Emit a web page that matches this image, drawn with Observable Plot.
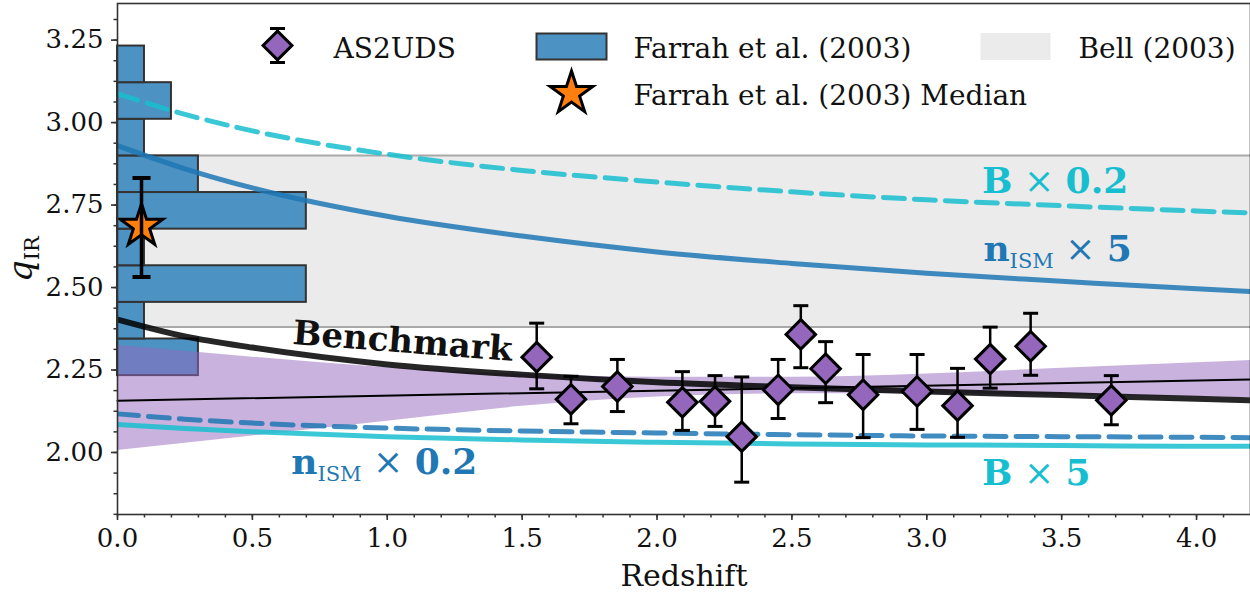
<!DOCTYPE html>
<html><head><meta charset="utf-8">
<script src="https://cdn.jsdelivr.net/npm/d3@7"></script>
<script src="https://cdn.jsdelivr.net/npm/@observablehq/plot@0.6"></script>
<style>body{margin:0;background:#fff}</style>
</head><body><div id="chart"></div>
<script>
// ---------- data ----------
const xDomain = [0, 4.2];
const yDomain = [1.812, 3.361];
const xMajorTicks = [0, 0.5, 1.0, 1.5, 2.0, 2.5, 3.0, 3.5, 4.0];
const xMinorTicks = d3.range(0, 42).map(i => i / 10);
const yMajorTicks = [2.00, 2.25, 2.50, 2.75, 3.00, 3.25];
const yMinorTicks = d3.range(29, 54).map(i => i * 0.0625);

// Model curves
const zGrid = [0, 0.25, 0.5, 1.0, 1.5, 2.0, 2.5, 3.0, 3.5, 4.0, 4.2];
const qBenchmark = [2.403, 2.352, 2.318, 2.267, 2.236, 2.213, 2.198, 2.185, 2.174, 2.163, 2.158];
const qNism5 = [2.930, 2.860, 2.802, 2.716, 2.656, 2.608, 2.573, 2.543, 2.519, 2.496, 2.488];
const qB02 = [3.087, 3.025, 2.975, 2.904, 2.855, 2.820, 2.790, 2.766, 2.748, 2.732, 2.726];
const qNism02 = [2.117, 2.101, 2.089, 2.074, 2.065, 2.059, 2.054, 2.050, 2.048, 2.046, 2.045];
const qB5 = [2.085, 2.073, 2.063, 2.048, 2.038, 2.031, 2.026, 2.023, 2.021, 2.019, 2.019];

// AS2UDS fit and its band
const fitZ = [0, 4.2];
const fitQ = [2.157, 2.221];
const bandZ = [0, 0.5, 1.0, 1.5, 2.0, 2.5, 3.0, 3.5, 4.0, 4.2];
const bandLow = [2.006, 2.050, 2.095, 2.140, 2.168, 2.178, 2.178, 2.174, 2.169, 2.166];
const bandHigh = [2.325, 2.289, 2.257, 2.237, 2.228, 2.228, 2.238, 2.255, 2.272, 2.279];

// Bell (2003)
const bellRange = [2.38, 2.90];

// Farrah et al. (2003) histogram
const farrahEdges = [2.233, 2.344, 2.455, 2.566, 2.677, 2.788, 2.899, 3.010, 3.121, 3.232];
const farrahHeights = [0.3, 0.1, 0.7, 0.1, 0.7, 0.3, 0.1, 0.2, 0.1];
const farrahMedZ = [0.089];
const farrahMedQ = [2.686];
const farrahMedLo = [2.532];
const farrahMedHi = [2.832];

// AS2UDS points
const asZ = [1.554, 1.681, 1.853, 2.094, 2.215, 2.314, 2.449, 2.533, 2.625, 2.764, 2.964, 3.114, 3.235, 3.385, 3.684];
const asQ = [2.289, 2.161, 2.200, 2.152, 2.155, 2.048, 2.190, 2.358, 2.254, 2.175, 2.185, 2.142, 2.283, 2.322, 2.158];
const asLo = [2.193, 2.087, 2.124, 2.067, 2.079, 1.910, 2.103, 2.257, 2.151, 2.045, 2.070, 2.046, 2.195, 2.234, 2.084];
const asHi = [2.392, 2.231, 2.282, 2.245, 2.233, 2.229, 2.282, 2.445, 2.336, 2.297, 2.297, 2.255, 2.380, 2.422, 2.233];

// Text
const legendLabels = ["AS2UDS", "Farrah et al. (2003)", "Bell (2003)", "Farrah et al. (2003) Median"];
const xLabel = "Redshift";
const yLabel = "q_IR";
const annoLabels = ["Benchmark", "B × 0.2", "n_ISM × 5", "n_ISM × 0.2", "B × 5"];
const annoZ = [0.647, 3.205, 3.210, 0.644, 3.205];
const annoQ = [2.329, 2.788, 2.581, 1.934, 1.902];

// ---------- build tables ----------
const curve = q => zGrid.map((z, i) => ({z, q: q[i]}));
const band = bandZ.map((z, i) => ({z, lo: bandLow[i], hi: bandHigh[i]}));
const fit = fitZ.map((z, i) => ({z, q: fitQ[i]}));
const bins = farrahHeights.map((w, i) => ({w, lo: farrahEdges[i], hi: farrahEdges[i + 1]}));
const med = farrahMedZ.map((z, i) => ({z, q: farrahMedQ[i], lo: farrahMedLo[i], hi: farrahMedHi[i]}));
const pts = asZ.map((z, i) => ({z, q: asQ[i], lo: asLo[i], hi: asHi[i]}));
const anno = annoLabels.map((t, i) => ({t, z: annoZ[i], q: annoQ[i]}));

const C0 = "#1f77b4", C9 = "#17becf", C4 = "#9467bd", C1 = "#ff7f0e";
const histFill = "#4c92c3", edge = "#333";

const capSym = hw => ({draw(ctx) { ctx.moveTo(-hw, 0); ctx.lineTo(hw, 0); }});
const rectSym = (w, h) => ({draw(ctx) { ctx.rect(-w / 2, -h / 2, w, h); }});
const errSym = (h, hw) => ({draw(ctx) {
  ctx.moveTo(0, -h); ctx.lineTo(0, h);
  ctx.moveTo(-hw, -h); ctx.lineTo(hw, -h);
  ctx.moveTo(-hw, h); ctx.lineTo(hw, h);
}});

const serif = "'DejaVu Serif', serif";
const boldSerif = "'DejaVu Serif', serif";
const lineStyle = {x: "z", y: "q", curve: "monotone-x", clip: true};
const legendText = {frameAnchor: "top-left", text: d => d, textAnchor: "start", lineAnchor: "bottom", fontSize: 28, fontFamily: serif, fill: "#111"};

const plot = Plot.plot({
  width: 1250, height: 592,
  marginLeft: 117, marginRight: 0, marginTop: 3, marginBottom: 78,
  x: {domain: xDomain},
  y: {domain: yDomain},
  style: {fontFamily: serif, color: "#000", background: "#fff", overflow: "visible"},
  marks: [
    // Bell band
    Plot.rect([bellRange], {y1: d => d[0], y2: d => d[1], fill: "#ebebeb"}),
    Plot.ruleY(bellRange, {stroke: "#a9a9a9", strokeWidth: 2}),
    // Farrah histogram
    Plot.rect(bins, {x1: 0, x2: "w", y1: "lo", y2: "hi", fill: histFill, stroke: edge, strokeWidth: 2}),
    // AS2UDS band + fit
    Plot.areaY(band, {x: "z", y1: "lo", y2: "hi", fill: C4, fillOpacity: 0.5, curve: "monotone-x", clip: true}),
    Plot.line(fit, {x: "z", y: "q", stroke: "#000", strokeWidth: 2}),
    // models
    Plot.line(curve(qNism5), {...lineStyle, stroke: C0, strokeOpacity: 0.85, strokeWidth: 5}),
    Plot.line(curve(qB02), {...lineStyle, stroke: C9, strokeOpacity: 0.85, strokeWidth: 5, strokeDasharray: "21,10"}),
    Plot.line(curve(qNism02), {...lineStyle, stroke: C0, strokeOpacity: 0.85, strokeWidth: 5, strokeDasharray: "21,10"}),
    Plot.line(curve(qB5), {...lineStyle, stroke: C9, strokeOpacity: 0.85, strokeWidth: 5}),
    Plot.line(curve(qBenchmark), {...lineStyle, stroke: "#000", strokeOpacity: 0.85, strokeWidth: 6}),
    // AS2UDS points
    Plot.ruleX(pts, {x: "z", y1: "lo", y2: "hi", stroke: "#000", strokeWidth: 2.5}),
    Plot.dot(pts, {x: "z", y: "lo", symbol: capSym(7.5), stroke: "#000", strokeWidth: 3, fill: "none"}),
    Plot.dot(pts, {x: "z", y: "hi", symbol: capSym(7.5), stroke: "#000", strokeWidth: 3, fill: "none"}),
    Plot.dot(pts, {x: "z", y: "q", symbol: "diamond2", r: 13.3, fill: C4, stroke: "#000", strokeWidth: 3}),
    // Farrah median
    Plot.dot(med, {x: "z", y: "q", symbol: "star", r: 13.4, fill: C1, stroke: "#000", strokeWidth: 3}),
    Plot.ruleX(med, {x: "z", y1: "lo", y2: "hi", stroke: "#000", strokeWidth: 3.5}),
    Plot.dot(med, {x: "z", y: "lo", symbol: capSym(9), stroke: "#000", strokeWidth: 4, fill: "none"}),
    Plot.dot(med, {x: "z", y: "hi", symbol: capSym(9), stroke: "#000", strokeWidth: 4, fill: "none"}),
    // annotations
    Plot.text(anno.filter(d => d.t === "Benchmark"), {x: "z", y: "q", text: "t", textAnchor: "start", lineAnchor: "bottom",
      rotate: 4.4, fontFamily: boldSerif, fontWeight: "bold", fontSize: 34, fill: "#111"}),
    Plot.text(anno.filter(d => d.t.startsWith("B ")), {x: "z", y: "q", text: "t", textAnchor: "start", lineAnchor: "bottom",
      fontFamily: boldSerif, fontWeight: "bold", fontSize: 36, fill: C9}),
    Plot.text(anno.filter(d => d.t.startsWith("n_")), {x: "z", y: "q", text: "t", textAnchor: "start", lineAnchor: "bottom",
      fontFamily: boldSerif, fontWeight: "bold", fontSize: 36, fill: C0}),
    // legend
    Plot.dot([0], {frameAnchor: "top-left", dx: 160, dy: 42, symbol: errSym(17, 7.5), stroke: "#000", strokeWidth: 3, fill: "none"}),
    Plot.dot([0], {frameAnchor: "top-left", dx: 160, dy: 42, symbol: "diamond2", r: 13, fill: C4, stroke: "#000", strokeWidth: 3}),
    Plot.dot([0], {frameAnchor: "top-left", dx: 454, dy: 43, symbol: rectSym(70, 26), fill: histFill, stroke: edge, strokeWidth: 2}),
    Plot.dot([0], {frameAnchor: "top-left", dx: 898, dy: 43, symbol: rectSym(70, 27), fill: "#ebebeb", stroke: "none"}),
    Plot.dot([0], {frameAnchor: "top-left", dx: 454, dy: 90, symbol: "star", r: 13.4, fill: C1, stroke: "#000", strokeWidth: 3}),
    Plot.text([legendLabels[0]], {...legendText, dx: 216, dy: 54}),
    Plot.text([legendLabels[1]], {...legendText, dx: 516, dy: 54}),
    Plot.text([legendLabels[2]], {...legendText, dx: 961, dy: 54}),
    Plot.text([legendLabels[3]], {...legendText, dx: 516, dy: 101}),
    // axes
    Plot.axisX(xMinorTicks, {tickSize: 3.5, stroke: edge, strokeWidth: 1.5, tickFormat: () => "", label: null}),
    Plot.axisY(yMinorTicks, {tickSize: 3.5, stroke: edge, strokeWidth: 1.5, tickFormat: () => "", label: null}),
    Plot.axisX(xMajorTicks, {tickSize: 6, tickPadding: 8, stroke: edge, strokeWidth: 1.6, tickFormat: d3.format(".1f"),
      fontSize: 26, fontFamily: serif, fill: "#111", label: null}),
    Plot.axisY(yMajorTicks, {tickSize: 6, tickPadding: 8, stroke: edge, strokeWidth: 1.6, tickFormat: d3.format(".2f"),
      fontSize: 26, fontFamily: serif, fill: "#111", label: null}),
    Plot.text([xLabel], {frameAnchor: "bottom", dy: 71, text: d => d, textAnchor: "middle", lineAnchor: "bottom", fontSize: 30, fontFamily: serif, fill: "#111"}),
    Plot.text([yLabel], {frameAnchor: "left", dx: -86, text: d => d, rotate: -90, textAnchor: "middle", lineAnchor: "bottom", fontSize: 34, fontFamily: serif, fill: "#111"}),
    Plot.frame({stroke: edge, strokeWidth: 1.6})
  ]
});

// ---------- rich text (bold / subscripts) ----------
const richParts = {
  "B × 0.2": [["B", "b"], [" × ", "r"], ["0.2", "b"]],
  "B × 5": [["B", "b"], [" × ", "r"], ["5", "b"]],
  "n_ISM × 5": [["n", "b"], ["ISM", "sub"], [" × ", "r"], ["5", "b"]],
  "n_ISM × 0.2": [["n", "b"], ["ISM", "sub"], [" × ", "r"], ["0.2", "b"]],
  "q_IR": [["q", "i"], ["IR", "sub"]]
};
plot.querySelectorAll("text").forEach(t => {
  const parts = richParts[t.textContent];
  if (!parts) return;
  t.textContent = "";
  t.setAttribute("style", "white-space:pre");
  let shifted = false;
  for (const [s, kind] of parts) {
    const ts = document.createElementNS("http://www.w3.org/2000/svg", "tspan");
    ts.textContent = s;
    ts.setAttribute("font-family", serif);
    ts.setAttribute("font-weight", kind === "b" ? "bold" : "normal");
    if (kind === "i") ts.setAttribute("font-style", "italic");
    if (kind === "sub") { ts.setAttribute("font-size", "21px"); ts.setAttribute("dy", "7"); shifted = true; }
    else if (shifted) { ts.setAttribute("dy", "-7"); shifted = false; }
    t.appendChild(ts);
  }
});

document.getElementById("chart").appendChild(plot);
</script></body></html>
